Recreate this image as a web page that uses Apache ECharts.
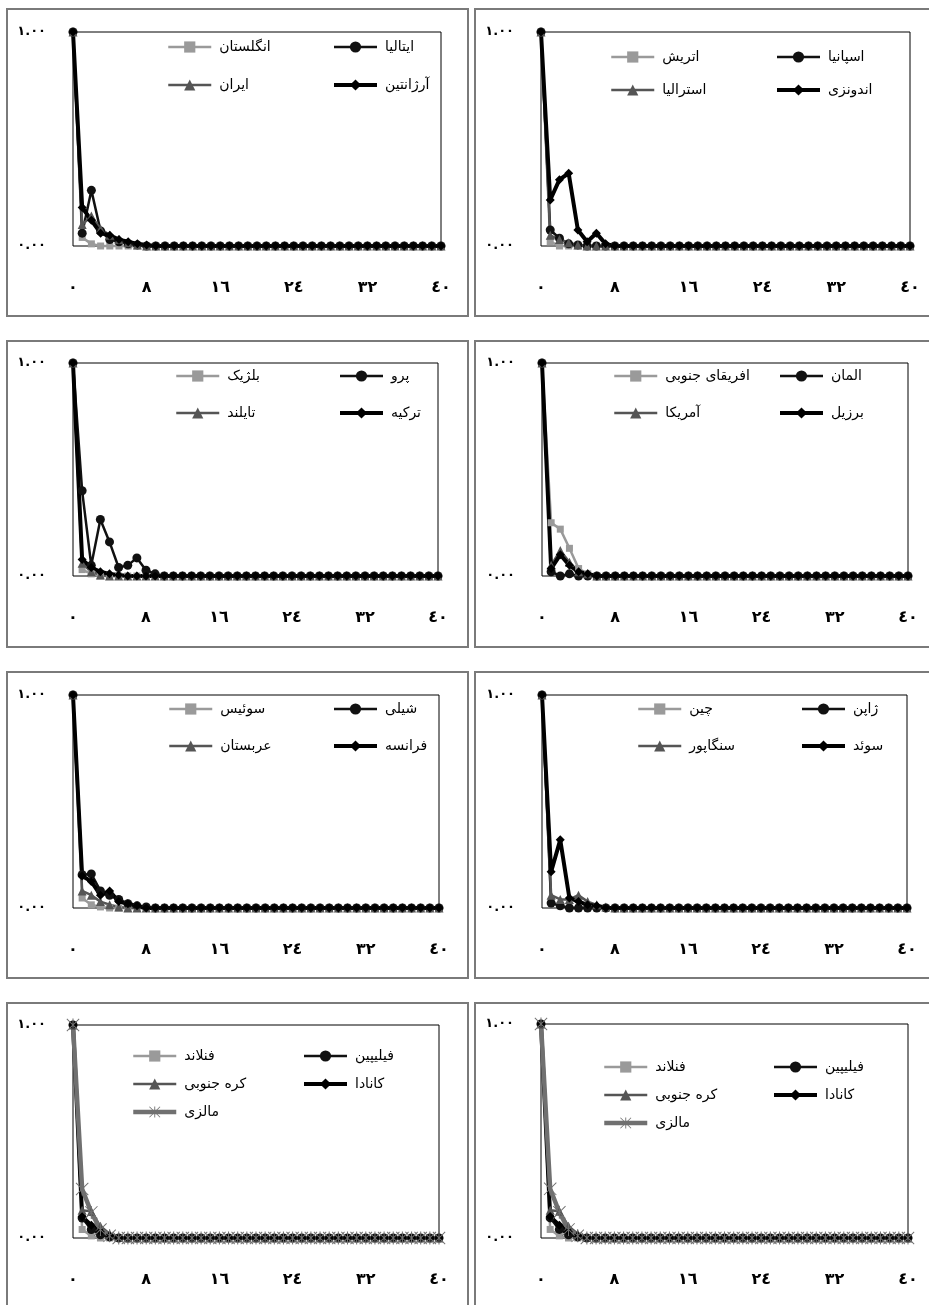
<!DOCTYPE html>
<html>
<head>
<meta charset="utf-8">
<script src="https://cdn.jsdelivr.net/npm/echarts@6/dist/echarts.min.js"></script>
<style>
  html, body { margin: 0; padding: 0; background: #fff; }
  #chart { width: 929px; height: 1305px; }
</style>
</head>
<body>
<div id="chart"></div>
<script>
// tick labels
const xTickLabels = ['٠', '٨', '١٦', '٢٤', '٣٢', '٤٠'];
const yTickLabels = ['٠.٠٠', '١.٠٠'];

// panel 1
const england   = [1, 0.04, 0.01, 0, 0, 0, 0, 0, 0, 0, 0,0,0,0,0,0,0,0,0,0, 0,0,0,0,0,0,0,0,0,0, 0,0,0,0,0,0,0,0,0,0, 0];
const italy     = [1, 0.06, 0.26, 0.07, 0.03, 0.02, 0.01, 0.005, 0, 0, 0,0,0,0,0,0,0,0,0,0, 0,0,0,0,0,0,0,0,0,0, 0,0,0,0,0,0,0,0,0,0, 0];
const iran      = [1, 0.10, 0.14, 0.08, 0.05, 0.03, 0.015, 0.005, 0, 0, 0,0,0,0,0,0,0,0,0,0, 0,0,0,0,0,0,0,0,0,0, 0,0,0,0,0,0,0,0,0,0, 0];
const argentina = [1, 0.18, 0.12, 0.06, 0.05, 0.03, 0.02, 0.01, 0.005, 0, 0,0,0,0,0,0,0,0,0,0, 0,0,0,0,0,0,0,0,0,0, 0,0,0,0,0,0,0,0,0,0, 0];

// panel 2
const austria   = [1, 0.02, 0, 0, 0, 0, 0, 0, 0, 0, 0,0,0,0,0,0,0,0,0,0, 0,0,0,0,0,0,0,0,0,0, 0,0,0,0,0,0,0,0,0,0, 0];
const spain     = [1, 0.075, 0.036, 0.01, 0.005, 0, 0, 0, 0, 0, 0,0,0,0,0,0,0,0,0,0, 0,0,0,0,0,0,0,0,0,0, 0,0,0,0,0,0,0,0,0,0, 0];
const australia = [1, 0.05, 0.03, 0.015, 0.005, 0, 0, 0, 0, 0, 0,0,0,0,0,0,0,0,0,0, 0,0,0,0,0,0,0,0,0,0, 0,0,0,0,0,0,0,0,0,0, 0];
const indonesia = [1, 0.215, 0.31, 0.34, 0.075, 0.02, 0.06, 0.01, 0, 0, 0,0,0,0,0,0,0,0,0,0, 0,0,0,0,0,0,0,0,0,0, 0,0,0,0,0,0,0,0,0,0, 0];

// panel 3
const belgium   = [1, 0.03, 0.01, 0, 0, 0, 0, 0, 0, 0, 0,0,0,0,0,0,0,0,0,0, 0,0,0,0,0,0,0,0,0,0, 0,0,0,0,0,0,0,0,0,0, 0];
const peru      = [1, 0.40, 0.05, 0.265, 0.16, 0.04, 0.05, 0.085, 0.027, 0.01, 0,0,0,0,0,0,0,0,0,0, 0,0,0,0,0,0,0,0,0,0, 0,0,0,0,0,0,0,0,0,0, 0];
const thailand  = [1, 0.06, 0.02, 0.005, 0, 0, 0, 0, 0, 0, 0,0,0,0,0,0,0,0,0,0, 0,0,0,0,0,0,0,0,0,0, 0,0,0,0,0,0,0,0,0,0, 0];
const turkey    = [1, 0.077, 0.04, 0.02, 0.01, 0.005, 0, 0, 0, 0, 0,0,0,0,0,0,0,0,0,0, 0,0,0,0,0,0,0,0,0,0, 0,0,0,0,0,0,0,0,0,0, 0];

// panel 4
const southAfrica = [1, 0.25, 0.22, 0.13, 0.035, 0.01, 0, 0, 0, 0, 0,0,0,0,0,0,0,0,0,0, 0,0,0,0,0,0,0,0,0,0, 0,0,0,0,0,0,0,0,0,0, 0];
const germany     = [1, 0.02, 0, 0.01, 0, 0, 0, 0, 0, 0, 0,0,0,0,0,0,0,0,0,0, 0,0,0,0,0,0,0,0,0,0, 0,0,0,0,0,0,0,0,0,0, 0];
const usa         = [1, 0.05, 0.12, 0.065, 0.02, 0.01, 0, 0, 0, 0, 0,0,0,0,0,0,0,0,0,0, 0,0,0,0,0,0,0,0,0,0, 0,0,0,0,0,0,0,0,0,0, 0];
const brazil      = [1, 0.035, 0.10, 0.05, 0.02, 0.01, 0, 0, 0, 0, 0,0,0,0,0,0,0,0,0,0, 0,0,0,0,0,0,0,0,0,0, 0,0,0,0,0,0,0,0,0,0, 0];

// panel 5
const switzerland = [1, 0.047, 0.015, 0.005, 0, 0, 0, 0, 0, 0, 0,0,0,0,0,0,0,0,0,0, 0,0,0,0,0,0,0,0,0,0, 0,0,0,0,0,0,0,0,0,0, 0];
const chile       = [1, 0.156, 0.16, 0.08, 0.06, 0.04, 0.02, 0.01, 0.005, 0, 0,0,0,0,0,0,0,0,0,0, 0,0,0,0,0,0,0,0,0,0, 0,0,0,0,0,0,0,0,0,0, 0];
const arabia      = [1, 0.08, 0.06, 0.03, 0.015, 0.005, 0, 0, 0, 0, 0,0,0,0,0,0,0,0,0,0, 0,0,0,0,0,0,0,0,0,0, 0,0,0,0,0,0,0,0,0,0, 0];
const france      = [1, 0.15, 0.125, 0.06, 0.08, 0.03, 0.02, 0.01, 0, 0, 0,0,0,0,0,0,0,0,0,0, 0,0,0,0,0,0,0,0,0,0, 0,0,0,0,0,0,0,0,0,0, 0];

// panel 6
const china     = [1, 0.03, 0.01, 0, 0, 0, 0, 0, 0, 0, 0,0,0,0,0,0,0,0,0,0, 0,0,0,0,0,0,0,0,0,0, 0,0,0,0,0,0,0,0,0,0, 0];
const japan     = [1, 0.023, 0.01, 0, 0, 0, 0, 0, 0, 0, 0,0,0,0,0,0,0,0,0,0, 0,0,0,0,0,0,0,0,0,0, 0,0,0,0,0,0,0,0,0,0, 0];
const singapore = [1, 0.06, 0.04, 0.04, 0.06, 0.03, 0.015, 0.005, 0, 0, 0,0,0,0,0,0,0,0,0,0, 0,0,0,0,0,0,0,0,0,0, 0,0,0,0,0,0,0,0,0,0, 0];
const sweden    = [1, 0.17, 0.32, 0.047, 0.03, 0.015, 0.01, 0, 0, 0, 0,0,0,0,0,0,0,0,0,0, 0,0,0,0,0,0,0,0,0,0, 0,0,0,0,0,0,0,0,0,0, 0];

// panels 7 and 8
const finland     = [1, 0.04, 0.01, 0, 0, 0, 0, 0, 0, 0, 0,0,0,0,0,0,0,0,0,0, 0,0,0,0,0,0,0,0,0,0, 0,0,0,0,0,0,0,0,0,0, 0];
const philippines = [1, 0.094, 0.04, 0.015, 0.005, 0, 0, 0, 0, 0, 0,0,0,0,0,0,0,0,0,0, 0,0,0,0,0,0,0,0,0,0, 0,0,0,0,0,0,0,0,0,0, 0];
const korea       = [1, 0.13, 0.125, 0.055, 0.02, 0.005, 0, 0, 0, 0, 0,0,0,0,0,0,0,0,0,0, 0,0,0,0,0,0,0,0,0,0, 0,0,0,0,0,0,0,0,0,0, 0];
const canada      = [1, 0.10, 0.06, 0.03, 0.01, 0, 0, 0, 0, 0, 0,0,0,0,0,0,0,0,0,0, 0,0,0,0,0,0,0,0,0,0, 0,0,0,0,0,0,0,0,0,0, 0];
const malaysia    = [1, 0.23, 0.12, 0.04, 0.01, 0, 0, 0, 0, 0, 0,0,0,0,0,0,0,0,0,0, 0,0,0,0,0,0,0,0,0,0, 0,0,0,0,0,0,0,0,0,0, 0];

const FONT = "'DejaVu Sans', sans-serif";
const asterisk = 'path://M-0.8,-10L0.8,-10L0.8,10L-0.8,10Z M9,-10L10,-9L-9,10L-10,9Z M-10,-9L-9,-10L10,9L9,10Z';

// marker / line look per series kind
const kinds = {
  sq: { symbol: 'rect', size: 7, color: '#9a9a9a', width: 2.5 },
  ci: { symbol: 'circle', size: 9, color: '#111', width: 2.5 },
  tr: { symbol: 'triangle', size: 9, color: '#555', width: 2.5 },
  di: { symbol: 'diamond', size: 9, color: '#000', width: 4 },
  st: { symbol: asterisk, size: 13, color: '#707070', width: 4.5 }
};

// box = outer frame, grid = [left, top, right, bottom] of the plot area
const panels = [
  { box: [7, 9, 468, 316], grid: [73, 32, 441, 246],
    series: [['انگلستان', england, 'sq'], ['ایتالیا', italy, 'ci'], ['ایران', iran, 'tr'], ['آرژانتین', argentina, 'di']],
    legends: [[162, 42, ['انگلستان', 'ایران']], [327, 42, ['ایتالیا', 'آرژانتین']]], gap: 38 },
  { box: [475, 9, 932, 316], grid: [541, 32, 910, 246],
    series: [['اتریش', austria, 'sq'], ['اسپانیا', spain, 'ci'], ['استرالیا', australia, 'tr'], ['اندونزی', indonesia, 'di']],
    legends: [[605, 52, ['اتریش', 'استرالیا']], [770, 52, ['اسپانیا', 'اندونزی']]], gap: 33 },
  { box: [7, 341, 468, 647], grid: [73, 363, 438, 576],
    series: [['بلژیک', belgium, 'sq'], ['پرو', peru, 'ci'], ['تایلند', thailand, 'tr'], ['ترکیه', turkey, 'di']],
    legends: [[170, 371, ['بلژیک', 'تایلند']], [333, 371, ['پرو', 'ترکیه']]], gap: 37 },
  { box: [475, 341, 932, 647], grid: [542, 363, 908, 576],
    series: [['افریقای جنوبی', southAfrica, 'sq'], ['المان', germany, 'ci'], ['آمریکا', usa, 'tr'], ['برزیل', brazil, 'di']],
    legends: [[608, 371, ['افریقای جنوبی', 'آمریکا']], [773, 371, ['المان', 'برزیل']]], gap: 37 },
  { box: [7, 672, 468, 978], grid: [73, 695, 439, 908],
    series: [['سوئیس', switzerland, 'sq'], ['شیلی', chile, 'ci'], ['عربستان', arabia, 'tr'], ['فرانسه', france, 'di']],
    legends: [[163, 704, ['سوئیس', 'عربستان']], [327, 704, ['شیلی', 'فرانسه']]], gap: 37 },
  { box: [475, 672, 932, 978], grid: [542, 695, 907, 908],
    series: [['چین', china, 'sq'], ['ژاپن', japan, 'ci'], ['سنگاپور', singapore, 'tr'], ['سوئد', sweden, 'di']],
    legends: [[632, 704, ['چین', 'سنگاپور']], [795, 704, ['ژاپن', 'سوئد']]], gap: 37 },
  { box: [7, 1003, 468, 1320], grid: [73, 1025, 439, 1238],
    series: [['فنلاند', finland, 'sq'], ['فیلیپین', philippines, 'ci'], ['کره جنوبی', korea, 'tr'], ['کانادا', canada, 'di'], ['مالزی', malaysia, 'st']],
    legends: [[126, 1051, ['فنلاند', 'کره جنوبی', 'مالزی']], [297, 1051, ['فیلیپین', 'کانادا']]], gap: 28 },
  { box: [475, 1003, 932, 1320], grid: [541, 1024, 908, 1238],
    series: [['فنلاند', finland, 'sq'], ['فیلیپین', philippines, 'ci'], ['کره جنوبی', korea, 'tr'], ['کانادا', canada, 'di'], ['مالزی', malaysia, 'st']],
    legends: [[597, 1062, ['فنلاند', 'کره جنوبی', 'مالزی']], [767, 1062, ['فیلیپین', 'کانادا']]], gap: 28 }
];

const grids = [], xAxes = [], yAxes = [], series = [], legends = [], graphics = [];

panels.forEach((p, i) => {
  const [gl, gt, gr, gb] = p.grid;
  const kindOf = {};
  grids.push({
    left: gl, top: gt, width: gr - gl, height: gb - gt,
    show: true, borderColor: '#000', borderWidth: 1, backgroundColor: 'transparent'
  });
  xAxes.push({
    type: 'value', gridIndex: i, min: 0, max: 40, interval: 8,
    axisLine: { show: false }, axisTick: { show: false }, splitLine: { show: false },
    axisLabel: {
      margin: 34, fontSize: 16, fontWeight: 'bold', color: '#000', fontFamily: FONT,
      formatter: v => xTickLabels[v / 8]
    }
  });
  yAxes.push({
    type: 'value', gridIndex: i, min: 0, max: 1, interval: 1,
    axisLine: { show: false }, axisTick: { show: false }, splitLine: { show: false },
    axisLabel: {
      margin: 27, fontSize: 13, fontWeight: 'bold', color: '#000', fontFamily: FONT,
      padding: [0, 0, 8, 0],
      formatter: v => yTickLabels[v]
    }
  });
  p.series.forEach(([name, vals, kind]) => {
    const k = kinds[kind];
    kindOf[name] = k;
    series.push({
      name: name, type: 'line', xAxisIndex: i, yAxisIndex: i,
      data: vals.map((v, x) => [x, v]),
      symbol: k.symbol, symbolSize: k.size, clip: false,
      lineStyle: { color: k.color, width: k.width },
      itemStyle: { color: k.color },
      animation: false
    });
  });
  p.legends.forEach(([lx, ly, names]) => {
    legends.push({
      left: lx, top: ly - 7, orient: 'vertical',
      itemWidth: 43, itemHeight: 14, itemGap: p.gap - 14,
      data: names.map(n => ({ name: n, lineStyle: { width: kindOf[n].width } })),
      selectedMode: false,
      textStyle: { fontSize: 14, color: '#000', fontFamily: FONT, padding: [0, 0, 0, 3] }
    });
  });
  const [bx, by, bx2, by2] = p.box;
  graphics.push({
    type: 'rect', shape: { x: bx, y: by, width: bx2 - bx, height: by2 - by },
    style: { fill: 'none', stroke: '#7a7a7a', lineWidth: 2 }, z: -10
  });
});

const chart = echarts.init(document.getElementById('chart'));
chart.setOption({
  animation: false,
  backgroundColor: '#fff',
  grid: grids,
  xAxis: xAxes,
  yAxis: yAxes,
  legend: legends,
  series: series,
  graphic: graphics
});
</script>
</body>
</html>
